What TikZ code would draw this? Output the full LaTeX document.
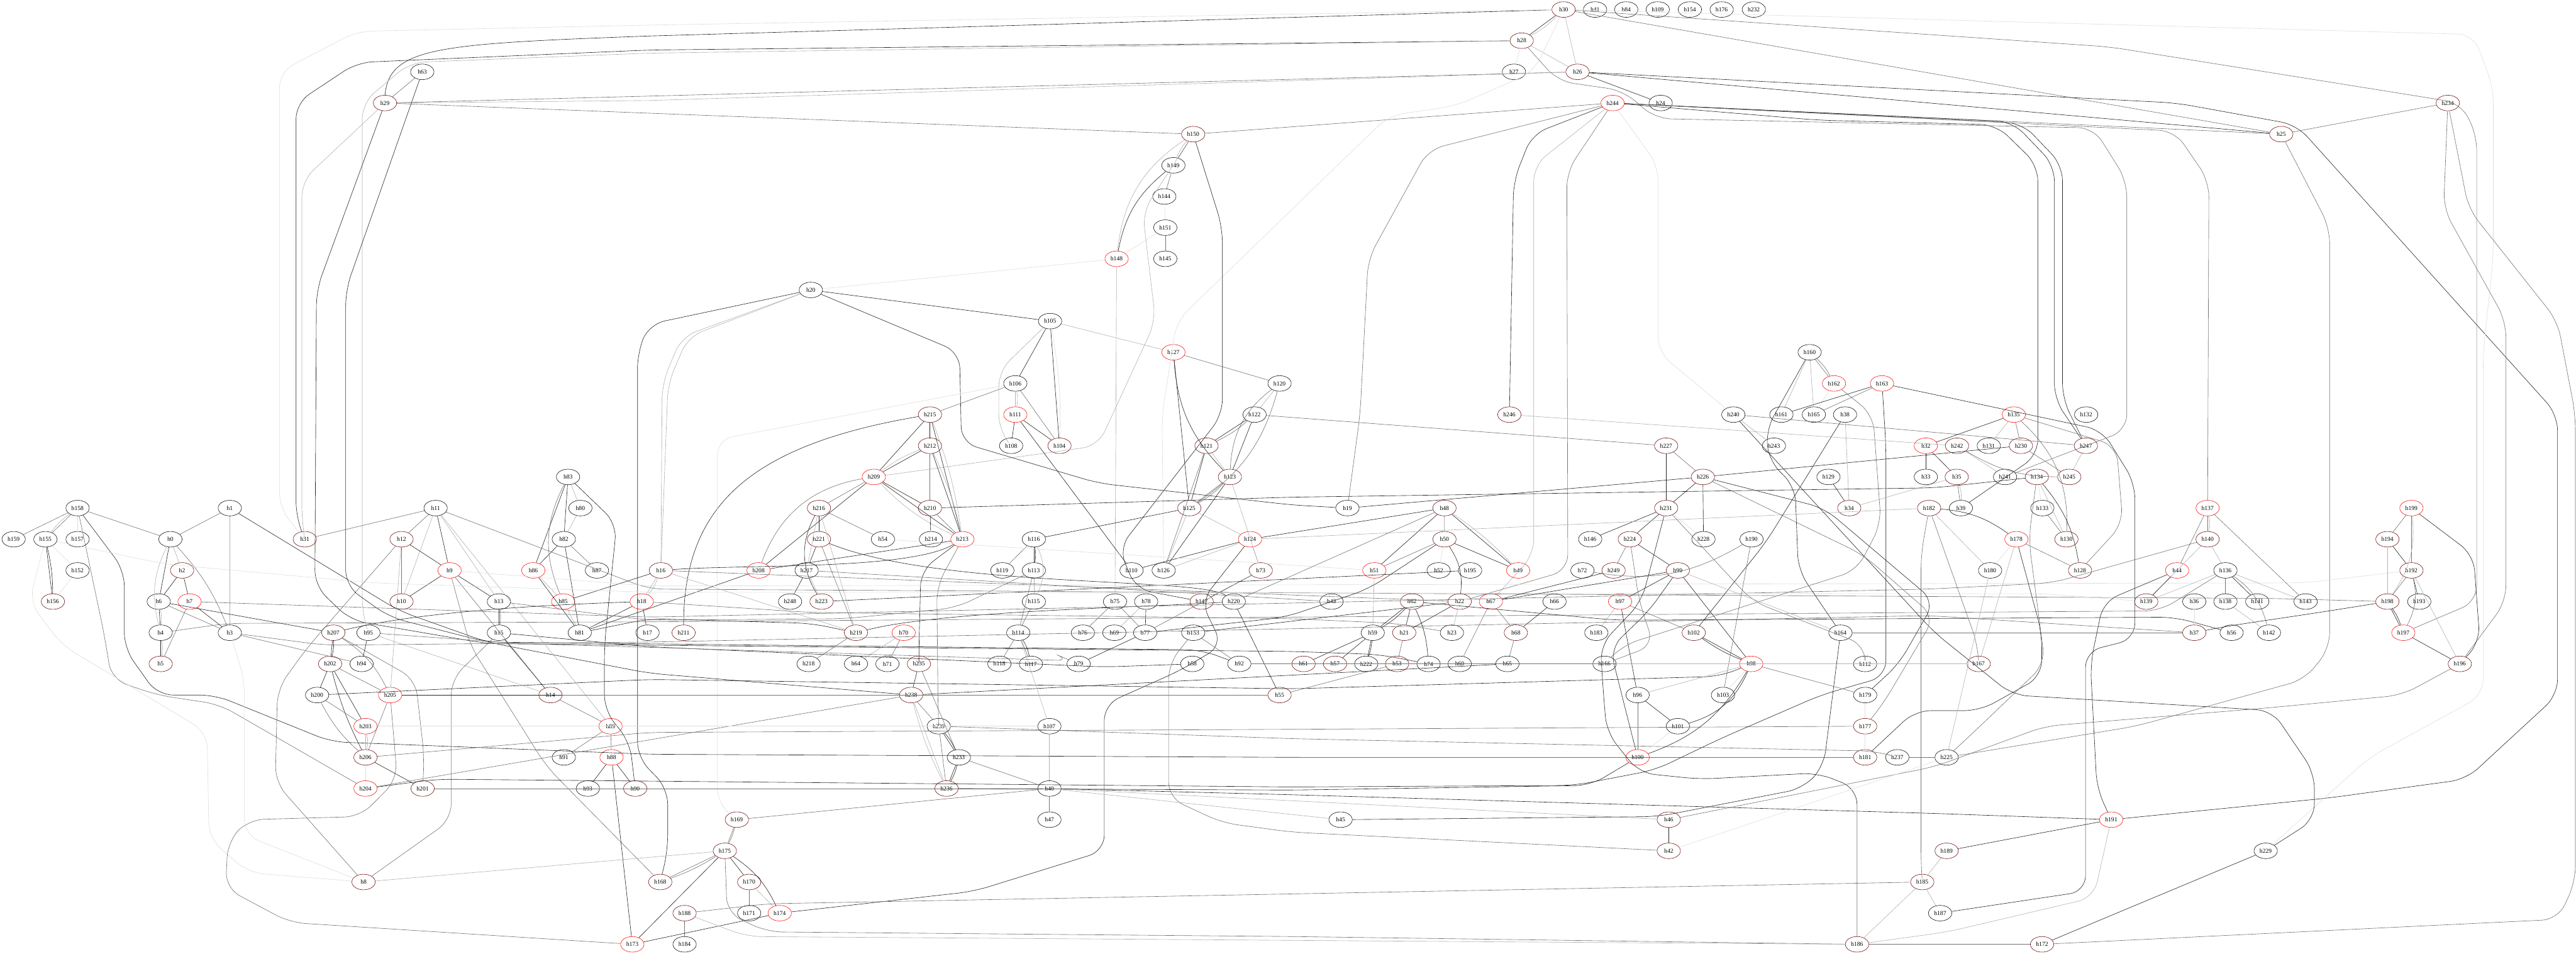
\documentclass[tikz,border=0pt]{standalone}
\usepackage{fontspec}
\setmainfont{Liberation Serif}
\usetikzlibrary{shapes.geometric}
\newcommand\hN[4]{\node[#1] (#2) at (#3,#4) {#2};}
\begin{document}
\begin{tikzpicture}[x=0.75pt,y=-72pt,
 hn/.style={ellipse,draw=black,line width=0.8pt,minimum width=54pt,minimum height=36pt,inner sep=0pt,font=\fontsize{14}{16}\selectfont},
 hr/.style={hn,draw=red},
 hd/.style={hn,draw=red!40!black},
 ek/.style={draw=black!85,line width=0.9pt},
 eg/.style={draw=black!55,line width=0.9pt},
 el/.style={draw=black!30,line width=0.9pt},
 ev/.style={draw=black!13,line width=0.9pt},
 rc/.style={rounded corners=36pt}]
\useasboundingbox[fill=white] (0,0) rectangle (7936,30.6146);
\begin{scope}[yshift=-22pt]
% r0
\hN{hd}{h30}{4817}{0}\hN{hn}{h41}{4914}{0}\hN{hn}{h84}{5010}{0}\hN{hn}{h109}{5107}{0}\hN{hn}{h154}{5206}{0}\hN{hn}{h176}{5304}{0}\hN{hn}{h232}{5403}{0}
% r1-r10
\hN{hd}{h28}{4688}{1}
\hN{hn}{h63}{1301}{2}\hN{hn}{h27}{4664}{2}\hN{hd}{h26}{4860}{2}
\hN{hd}{h29}{1186}{3}\hN{hr}{h244}{4968}{3}\hN{hn}{h24}{5116}{3}\hN{hd}{h234}{7541}{3}
\hN{hd}{h150}{3676}{4}\hN{hd}{h25}{7028}{4}
\hN{hn}{h149}{3615}{5}
\hN{hn}{h144}{3587}{6}
\hN{hn}{h151}{3590}{7}
\hN{hr}{h148}{3440}{8}\hN{hn}{h145}{3590}{8}
\hN{hn}{h20}{2498}{9}
\hN{hn}{h105}{3235}{10}
% r11
\hN{hr}{h127}{3615}{11}\hN{hn}{h160}{5575}{11}
% r12
\hN{hn}{h106}{3128}{12}\hN{hn}{h120}{3942}{12}\hN{hr}{h162}{5650}{12}\hN{hr}{h163}{5798}{12}
% r13
\hN{hd}{h215}{2865}{13}\hN{hr}{h111}{3128}{13}\hN{hn}{h122}{3865}{13}\hN{hd}{h246}{4650}{13}\hN{hn}{h240}{5340}{13}\hN{hn}{h161}{5488}{13}\hN{hn}{h165}{5588}{13}\hN{hn}{h38}{5684}{13}\hN{hr}{h135}{6204}{13}\hN{hn}{h132}{6427}{13}
% r14
\hN{hd}{h212}{2865}{14}\hN{hn}{h108}{3115}{14}\hN{hd}{h104}{3264}{14}\hN{hd}{h121}{3717}{14}\hN{hd}{h227}{5133}{14}\hN{hn}{h243}{5465}{14}\hN{hr}{h32}{5933}{14}\hN{hd}{h242}{6029}{14}\hN{hn}{h131}{6127}{14}\hN{hd}{h230}{6226}{14}\hN{hd}{h247}{6426}{14}
% r15
\hN{hn}{h83}{1750}{15}\hN{hr}{h209}{2692}{15}\hN{hd}{h123}{3789}{15}\hN{hd}{h226}{5246}{15}\hN{hn}{h129}{5633}{15}\hN{hn}{h33}{5933}{15}\hN{hd}{h35}{6028}{15}\hN{hn}{h241}{6177}{15}\hN{hd}{h134}{6275}{15}\hN{hd}{h245}{6375}{15}
% r16
\hN{hn}{h158}{239}{16}\hN{hn}{h1}{708}{16}\hN{hn}{h11}{1342}{16}\hN{hn}{h80}{1788}{16}\hN{hd}{h216}{2523}{16}\hN{hd}{h210}{2865}{16}\hN{hd}{h125}{3664}{16}\hN{hn}{h19}{4151}{16}\hN{hd}{h48}{4450}{16}\hN{hd}{h231}{5133}{16}\hN{hd}{h34}{5697}{16}\hN{hd}{h182}{5943}{16}\hN{hn}{h39}{6041}{16}\hN{hn}{h133}{6292}{16}\hN{hr}{h137}{6801}{16}\hN{hr}{h199}{7429}{16}
% r17
\hN{hn}{h159}{42}{17}\hN{hn}{h155}{140}{17}\hN{hn}{h157}{239}{17}\hN{hn}{h0}{525}{17}\hN{hd}{h31}{939}{17}\hN{hd}{h12}{1237}{17}\hN{hn}{h82}{1737}{17}\hN{hd}{h221}{2523}{17}\hN{hn}{h54}{2720}{17}\hN{hn}{h214}{2868}{17}\hN{hr}{h213}{2965}{17}\hN{hn}{h116}{3185}{17}\hN{hr}{h124}{3851}{17}\hN{hd}{h50}{4450}{17}\hN{hn}{h146}{4899}{17}\hN{hd}{h224}{5021}{17}\hN{hn}{h228}{5248}{17}\hN{hn}{h190}{5396}{17}\hN{hr}{h178}{6212}{17}\hN{hd}{h130}{6366}{17}\hN{hd}{h140}{6801}{17}\hN{hd}{h194}{7355}{17}
% r18
\hN{hn}{h152}{239}{18}\hN{hd}{h2}{561}{18}\hN{hr}{h9}{1385}{18}\hN{hr}{h86}{1643}{18}\hN{hn}{h87}{1839}{18}\hN{hd}{h16}{2036}{18}\hN{hr}{h208}{2337}{18}\hN{hn}{h217}{2485}{18}\hN{hn}{h119}{3088}{18}\hN{hn}{h113}{3185}{18}\hN{hn}{h110}{3486}{18}\hN{hn}{h126}{3585}{18}\hN{hd}{h73}{3884}{18}\hN{hr}{h51}{4234}{18}\hN{hn}{h52}{4432}{18}\hN{hn}{h195}{4529}{18}\hN{hr}{h49}{4677}{18}\hN{hn}{h72}{4875}{18}\hN{hd}{h249}{4971}{18}\hN{hd}{h99}{5169}{18}\hN{hn}{h180}{6131}{18}\hN{hd}{h128}{6408}{18}\hN{hr}{h44}{6707}{18}\hN{hn}{h136}{6856}{18}\hN{hd}{h192}{7429}{18}
% r19
\hN{hd}{h156}{163}{19}\hN{hn}{h6}{489}{19}\hN{hr}{h7}{584}{19}\hN{hd}{h10}{1237}{19}\hN{hn}{h13}{1537}{19}\hN{hr}{h85}{1735}{19}\hN{hr}{h18}{1977}{19}\hN{hn}{h248}{2434}{19}\hN{hd}{h223}{2531}{19}\hN{hn}{h115}{3185}{19}\hN{hn}{h75}{3435}{19}\hN{hn}{h78}{3531}{19}\hN{hd}{h147}{3702}{19}\hN{hn}{h220}{3801}{19}\hN{hn}{h43}{4102}{19}\hN{hd}{h62}{4350}{19}\hN{hd}{h22}{4497}{19}\hN{hr}{h67}{4593}{19}\hN{hn}{h66}{4789}{19}\hN{hr}{h97}{4991}{19}\hN{hd}{h139}{6612}{19}\hN{hn}{h36}{6760}{19}\hN{hn}{h138}{6856}{19}\hN{hn}{h141}{6954}{19}\hN{hn}{h143}{7103}{19}\hN{hd}{h198}{7355}{19}\hN{hn}{h193}{7453}{19}
% r20
\hN{hn}{h4}{495}{20}\hN{hn}{h3}{708}{20}\hN{hd}{h207}{1027}{20}\hN{hn}{h95}{1135}{20}\hN{hn}{h15}{1537}{20}\hN{hn}{h81}{1786}{20}\hN{hn}{h17}{1995}{20}\hN{hd}{h211}{2106}{20}\hN{hd}{h219}{2637}{20}\hN{hr}{h70}{2784}{20}\hN{hn}{h114}{3137}{20}\hN{hn}{h76}{3336}{20}\hN{hn}{h69}{3433}{20}\hN{hn}{h77}{3528}{20}\hN{hn}{h153}{3676}{20}\hN{hn}{h59}{4229}{20}\hN{hd}{h21}{4326}{20}\hN{hn}{h23}{4473}{20}\hN{hd}{h68}{4670}{20}\hN{hn}{h183}{4918}{20}\hN{hd}{h102}{5218}{20}\hN{hn}{h164}{5670}{20}\hN{hd}{h37}{6760}{20}\hN{hn}{h56}{6875}{20}\hN{hn}{h142}{6990}{20}\hN{hr}{h197}{7404}{20}
% r21
\hN{hd}{h5}{495}{21}\hN{hd}{h202}{1017}{21}\hN{hn}{h94}{1114}{21}\hN{hn}{h218}{2491}{21}\hN{hn}{h64}{2637}{21}\hN{hn}{h71}{2734}{21}\hN{hd}{h235}{2831}{21}\hN{hn}{h118}{3079}{21}\hN{hn}{h117}{3176}{21}\hN{hn}{h79}{3323}{21}\hN{hn}{h58}{3673}{21}\hN{hn}{h92}{3818}{21}\hN{hd}{h61}{4016}{21}\hN{hd}{h57}{4113}{21}\hN{hn}{h222}{4209}{21}\hN{hd}{h53}{4304}{21}\hN{hn}{h74}{4401}{21}\hN{hn}{h60}{4497}{21}\hN{hn}{h65}{4644}{21}\hN{hn}{h166}{4943}{21}\hN{hr}{h98}{5395}{21}\hN{hn}{h112}{5746}{21}\hN{hd}{h167}{6096}{21}\hN{hd}{h196}{7578}{21}
% r22
\hN{hn}{h200}{977}{22}\hN{hr}{h205}{1202}{22}\hN{hd}{h14}{1696}{22}\hN{hd}{h238}{2807}{22}\hN{hd}{h55}{3942}{22}\hN{hn}{h96}{5045}{22}\hN{hn}{h103}{5308}{22}\hN{hn}{h179}{5746}{22}
% r23
\hN{hr}{h203}{1126}{23}\hN{hr}{h89}{1881}{23}\hN{hn}{h239}{2892}{23}\hN{hn}{h107}{3233}{23}\hN{hn}{h101}{5169}{23}\hN{hd}{h177}{5746}{23}
% r24
\hN{hd}{h206}{1126}{24}\hN{hn}{h91}{1737}{24}\hN{hr}{h88}{1884}{24}\hN{hn}{h233}{2954}{24}\hN{hr}{h100}{5045}{24}\hN{hd}{h181}{5746}{24}\hN{hn}{h237}{5845}{24}\hN{hn}{h225}{5997}{24}
% r25
\hN{hr}{h204}{1126}{25}\hN{hd}{h201}{1302}{25}\hN{hn}{h93}{1811}{25}\hN{hd}{h90}{1957}{25}\hN{hd}{h236}{2916}{25}\hN{hn}{h40}{3233}{25}
% r26
\hN{hd}{h169}{2270}{26}\hN{hn}{h47}{3233}{26}\hN{hn}{h45}{4130}{26}\hN{hd}{h46}{5141}{26}\hN{hr}{h191}{6504}{26}
% r27
\hN{hd}{h175}{2233}{27}\hN{hd}{h42}{5141}{27}\hN{hd}{h189}{5997}{27}\hN{hn}{h229}{6980}{27}
% r28
\hN{hd}{h8}{1120}{28}\hN{hd}{h168}{2034}{28}\hN{hd}{h170}{2308}{28}\hN{hd}{h185}{5922}{28}
% r29
\hN{hd}{h188}{2109}{29}\hN{hn}{h171}{2308}{29}\hN{hr}{h174}{2402}{29}\hN{hn}{h187}{5977}{29}
% r30
\hN{hr}{h173}{1948}{30}\hN{hn}{h184}{2109}{30}\hN{hd}{h186}{5721}{30}\hN{hd}{h172}{6291}{30}

% ---------------- edges: top
\draw[ek] (h30) -- (h28); \draw[el] (h30) to[bend left=8] (h28);
\draw[el] (h30) -- (h26); \draw[ev] (h28) -- (h27); \draw[el] (h28) -- (h26);
\draw[ek] (h26) -- (h24); \draw[eg] (h63) -- (h29);
\draw[eg] (h30) -- (h25); \draw[ek] (h26) -- (h25); \draw[eg] (h244) -- (h25); \draw[eg] (h234) -- (h25);
\draw[eg] (h29) -- (h150); \draw[eg] (h150) -- (h244);
\draw[eg] (h29) -- (h26); \draw[el] (h29) -- (2000,2.92) -- (h26);
\draw[ek] (h29.north) .. controls (1200,1.2) and (1350,1.1) .. (2000,0.85) -- (h30);
\draw[ev,rc] (h30) -- (2000,0.5) -- (1100,0.7) -- (861,2) -- (861,16) -- (h31);
\draw[ek,rc] (h28) -- (2000,1.3) -- (1100,1.7) -- (912,3) -- (912,16.3) -- (h31);
\draw[el,rc] (h28) -- (2000,1.4) -- (1263,1.7) -- (1116,3) -- (1116,19.4) -- (h95);
\draw[el,rc] (h29) -- (930,5.5) -- (930,16.4) -- (h31);
\draw[ek,rc] (h29) -- (975,9) -- (970,18.5) -- (1080,19.6) -- (1500,20.35) -- (3980,20.6) -- (4250,20.7) -- (h74);
\draw[ek,rc] (h63) -- (1065,9) -- (1065,18.5) -- (1200,19.5) -- (1500,20.3) -- (3700,20.55) -- (h92);
\draw[ev,rc] (h30) -- (4725,2) -- (4483,3.1) -- (4279,3.4) -- (3625,10) -- (3580,13) -- (h126);
% h150 block
\draw[ek] (h150) -- (h149); \draw[el] (h150) to[bend right=10] (h149);
\draw[eg] (h149) -- (h144); \draw[ev] (h144) -- (h151); \draw[eg] (h151) -- (h145);
\draw[ek] (h149) to[bend right=20] (h148); \draw[el] (h150) to[bend right=25] (h148); \draw[ev] (h151) -- (h148);
\draw[ev] (h148) -- (h20); \draw[el] (h148) -- (h75);
\draw[el,rc] (h150) -- (3520,6.5) -- (3560,10) -- (3383,14) -- (h209);
\draw[ek,rc] (h150) -- (3766,7) -- (3766,13) -- (3447,17.3) -- (3500,18.6) -- (h147);
\draw[ek,rc] (h20) -- (2956,11) -- (2962,13.9) -- (3383,15.2) -- (3980,15.9) -- (h19);
\draw[ek,rc] (h20) -- (2000,10.1) -- (1964,11) -- (1964,24) -- (2057,25) -- (2057,27) -- (h168);
\draw[el,rc] (h20) -- (2100,10.5) -- (2040,12) -- (h16);
\draw[el,rc] (h20) -- (2120,10.5) -- (2058,12) -- (h16);
\draw[ek] (h20) -- (h105);
% h244 routes
\draw[ek,rc] (h244) -- (4720,4) -- (4663,5.5) -- (h246);
\draw[el,rc] (h244) -- (4725,5) -- (4725,17.5) -- (h67);
\draw[eg,rc] (h244) -- (4827,5.2) -- (4830,18) -- (h22);
\draw[ev,rc] (h244) -- (5108,5) -- (5108,11) -- (h240);
\draw[eg,rc] (h244) -- (4400,4.5) -- (4215,8) -- (4190,13) -- (h19);
\draw[ek,rc] (h244) -- (5600,3.55) -- (6150,3.7) -- (6278,5) -- (6278,14.3) -- (h39);
\draw[ek,rc] (h244) -- (6200,3.6) -- (6329,5) -- (6329,12.5) -- (h247);
\draw[ek,rc] (h244) -- (6230,3.65) -- (6354,5) -- (6354,12.5) -- (h247);
\draw[eg,rc] (h28) -- (4800,2.3) -- (5000,2.6) -- (5100,3.5) -- (6450,3.8) -- (6552,5.5) -- (6552,13.5) -- (6300,14.5) -- (h241);
\draw[eg,rc] (h244) -- (6700,3.9) -- (6805,5.5) -- (h137);
\draw[ek,rc] (h26) -- (6705,3.0) -- (7075,3.7) -- (7879,13) -- (7879,22) -- (7598,24.7) -- (7177,25.3) -- (h191);
\draw[eg,rc] (h30) -- (6500,1.2) -- (7580,3) -- (7630,4) -- (7630,19) -- (h197);
\draw[ev,rc] (h30) -- (7620,0.8) -- (7681,2.5) -- (7681,8) -- (7650,11) -- (7650,22) -- (7300,24) -- (h229);
\draw[eg,rc] (h234) -- (7528,6.4) -- (7720,10) -- (7720,19) -- (h196);
\draw[eg,rc] (h234) -- (7605,6.4) -- (7879,10) -- (7934,13) -- (7934,28) -- (7880,29.2) -- (h172);
\draw[eg,rc] (h25) -- (7177,7) -- (7177,20.5) -- (7100,21.5) -- (6580,23) -- (h225);
% crop6 block
\draw[el] (h105) -- (h127); \draw[ek] (h105) -- (h106); \draw[ek] (h105) -- (h104); \draw[ev] (h105) to[bend left=6] (h104);
\draw[el,rc] (h105) -- (3077,11.6) -- (3077,13.5) -- (h108);
\draw[el] (h106) -- (h111); \draw[el] (h106) to[bend left=10] (h111); \draw[eg] (h106) -- (h104); \draw[eg] (h106) -- (h215);
\draw[ek] (h111) -- (h108); \draw[ek] (h111) -- (h104); \draw[ek] (h111) -- (h110);
\draw[eg] (h127) -- (h120); \draw[ek] (h127) -- (h125); \draw[ek] (h127) to[bend right=20] (h123);
\draw[el] (h120) -- (h122); \draw[eg] (h120) to[bend right=25] (h123); \draw[eg] (h120) to[bend left=20] (h125);
\draw[ek] (h122) -- (h121); \draw[eg] (h122) to[bend left=8] (h121); \draw[ek] (h122) -- (h123);
\draw[ek] (h121) -- (h125); \draw[el] (h121) -- (h123); \draw[eg] (h121) -- (h126);
\draw[eg] (h123) -- (h125); \draw[eg] (h123) to[bend left=8] (h125); \draw[ek] (h123) -- (h126); \draw[el] (h123) -- (h73);
\draw[ek] (h125) -- (h116); \draw[el] (h125) -- (h124); \draw[el] (h125) -- (h126);
\draw[ek] (h124) -- (h110); \draw[el] (h124) -- (h126); \draw[el] (h124) -- (h73);
\draw[ek] (h215) -- (h212); \draw[ek] (h215) -- (h209); \draw[ek] (h215) -- (h213); \draw[el] (h215) to[bend left=6] (h213);
\draw[ek] (h215) .. controls (2300,14) and (2106,16) .. (h211);
\draw[ek] (h212) -- (h209); \draw[el] (h212) to[bend right=8] (h209); \draw[eg] (h212) -- (h210); \draw[ek] (h212) -- (h213); \draw[el] (h212) to[bend left=6] (h213);
\draw[ek] (h209) -- (h210); \draw[ek] (h209) -- (h213); \draw[el] (h209) to[bend right=10] (h213); \draw[eg] (h209) -- (h216);
\draw[ek] (h209) -- (h208); \draw[eg] (h209) to[bend right=30] (h208);
\draw[ek] (h216) -- (h221); \draw[eg] (h216) -- (h54); \draw[el] (h216) -- (h217); \draw[ek] (h216) to[bend right=30] (h223); \draw[el] (h216) -- (h219);
\draw[ek] (h221) -- (h217); \draw[eg] (h221) -- (h219);
\draw[ek] (h221) .. controls (2900,18.6) and (3700,18.2) .. (h220);
\draw[ek] (h217) -- (h248); \draw[el] (h217) -- (h223); \draw[ek] (h210) -- (h214); \draw[eg] (h210) -- (h213);
\draw[ek,rc] (h213) -- (2837,18) -- (2831,20.5) -- (h235);
\draw[eg,rc] (h213) -- (2886,18.5) -- (2890,22.5) -- (h239);
\draw[ek] (h213) .. controls (2800,18) and (2300,17.8) .. (h16); \draw[ek] (h213) -- (h208);
\draw[eg] (h116) -- (h119); \draw[ek] (h116) -- (h113); \draw[ek] (h116) to[bend left=8] (h113); \draw[el] (h116) to[bend left=25] (h115);
\draw[el] (h113) -- (h115); \draw[eg] (h113) -- (h114); \draw[eg] (h115) -- (h114);
\draw[eg] (h75) -- (h76); \draw[eg] (h75) -- (h77); \draw[ek] (h78) -- (h77); \draw[el] (h78) -- (h69);
\draw[eg] (h147) -- (h73); \draw[eg] (h73) -- (h77); \draw[ek] (h219) .. controls (2900,19.3) and (3500,19.2) .. (h220);
\draw[eg] (h114) -- (h118); \draw[eg] (h114) -- (h117); \draw[ek] (h114) to[bend left=10] (h117);
\draw[ek] (h77) -- (h79); \draw[eg] (h70) -- (h71); \draw[el] (h70) -- (h64); \draw[eg] (h219) -- (h218);
\draw[eg] (h16) -- (h22); \draw[eg] (h217) -- (h43); \draw[ek] (h223) -- (h195);
\draw[eg,rc] (h18) -- (2500,19.35) -- (3980,19.55) -- (4300,19.7) -- (h23);
\draw[ek] (h208) -- (h81); \draw[el] (h16) -- (h219);
\draw[eg,rc] (h13) -- (2000,19.6) -- (2600,19.55) -- (2945,19.2) -- (h113);
\draw[ek,rc] (h15) -- (2000,20.45) -- (3400,21.1) -- (h58);
\draw[eg,rc] (h95) -- (1600,20.35) -- (2100,20.5) -- (3300,20.9) -- (h79);
\draw[ev,rc] (h106) -- (2210,13.8) -- (2210,25.5) -- (h169);
\draw[ev] (h54) -- (h51);
% crop5 block
\draw[eg] (h158) -- (h159); \draw[eg] (h158) -- (h155); \draw[el] (h158) to[bend right=8] (h155); \draw[ev] (h158) -- (h157); \draw[eg] (h158) -- (h0);
\draw[ek] (h155) -- (h156); \draw[ek] (h155) to[bend left=6] (h156); \draw[ev] (h155) -- (h152); \draw[ev] (h152) -- (h156);
\draw[eg] (h1) -- (h0); \draw[el] (h1) -- (h3); \draw[ek] (h0) -- (h6); \draw[el] (h0) -- (h2); \draw[eg] (h0) to[bend left=10] (h3); \draw[el] (h0) to[bend right=20] (h4);
\draw[ek] (h2) -- (h6); \draw[ek] (h2) -- (h7); \draw[ek] (h6) -- (h4); \draw[el] (h6) to[bend left=8] (h4); \draw[eg] (h6) -- (h3); \draw[ek] (h6) -- (h207); \draw[ek] (h7) -- (h3);
\draw[ek] (h4) -- (h5); \draw[el] (h4) to[bend left=8] (h5); \draw[eg] (h7) -- (h5);
\draw[eg] (h31) -- (h11); \draw[eg] (h11) -- (h12); \draw[ek] (h11) -- (h9); \draw[el] (h11) -- (h10); \draw[el] (h11) -- (h13);
\draw[eg] (h12) -- (h10); \draw[ek] (h12) -- (h9); \draw[ek] (h9) -- (h10); \draw[ek] (h9) -- (h13); \draw[ek] (h13) -- (h15); \draw[eg] (h13) to[bend left=8] (h15);
\draw[el] (h83) -- (h80); \draw[ek] (h83) -- (h82); \draw[ek] (h83) -- (h86); \draw[eg] (h83) to[bend right=25] (h85); \draw[el] (h80) -- (h82);
\draw[ek] (h82) -- (h86); \draw[eg] (h82) -- (h87); \draw[ek] (h82) -- (h81); \draw[ek] (h86) -- (h81); \draw[el] (h86) -- (h85); \draw[el] (h85) -- (h81);
\draw[ek] (h18) -- (h81); \draw[ek] (h207) .. controls (1300,19.3) and (1700,19.1) .. (h18); \draw[ek] (h85) -- (h16); \draw[ek] (h18) -- (h17);
\draw[el] (h16) -- (h18); \draw[el] (h16) to[bend left=10] (h18);
\draw[ek,rc] (h81) -- (2000,19.55) -- (2500,19.7) -- (h219);
\draw[ek,rc] (h83) -- (1900,16.5) -- (1862,20.4) -- (1862,22.5) -- (1940,23.5) -- (h90);
\draw[ek,rc] (h158) -- (383,18) -- (383,20.5) -- (485,22) -- (663,22) -- (1020,23.5) -- (2000,23.9) -- (3980,24) -- (h181);
\draw[eg,rc] (h158) -- (320,20) -- (344,21.5) -- (485,22) -- (676,22.3) -- (h204);
\draw[ev,rc] (h155) -- (90,19) -- (191,20.4) -- (383,21.6) -- (638,23.2) -- (644,26.6) -- (765,27.7) -- (h8);
\draw[ek,rc] (h1) -- (1230,19.3) -- (1500,20.3) -- (2000,21.3) -- (h238);
\draw[ek] (h15) -- (h14); \draw[el] (h95) -- (h14); \draw[eg] (h9) -- (h14); \draw[el] (h11) -- (h89);
\draw[eg,rc] (h9) -- (1448,20.4) -- (1684,24.3) -- (h168);
\draw[el] (h12) -- (h205); \draw[eg] (h3) -- (h94); \draw[eg,rc] (h207) -- (1280,21.5) -- (1307,24) -- (h201);
% long band
\draw[eg,rc] (h11) -- (2000,18.6) -- (7000,18.9) -- (h198);
\draw[ev,rc] (h9) -- (2000,18.5) -- (7100,18.4) -- (h192);
\draw[eg,rc] (h7) -- (2000,19.5) -- (5940,18.6) -- (6323,18.4) -- (h140);
\draw[eg,rc] (h4) -- (700,19.7) -- (2000,19.65) -- (5940,19.35) -- (6654,19.3) -- (h136);
\draw[eg,rc] (h3) -- (1000,20.4) -- (2000,20.3) -- (5940,19.45) -- (h37);
\draw[ev,rc] (h155) -- (510,17.8) -- (1148,18.4) -- (2000,18.7) -- (6300,18.75) -- (h139);
% crop9 block
\draw[ek] (h202) -- (h207); \draw[ek] (h202) to[bend right=8] (h207); \draw[ek] (h94) -- (h95); \draw[eg] (h207) to[bend left=15] (h205);
\draw[ek] (h202) -- (h200); \draw[eg] (h202) -- (h205); \draw[ek] (h202) -- (h203); \draw[ek] (h202) to[bend right=6] (h206);
\draw[eg] (h200) -- (h203); \draw[eg] (h200) to[bend right=10] (h206); \draw[el] (h203) -- (h206); \draw[el] (h203) to[bend left=10] (h206);
\draw[eg] (h205) -- (h206); \draw[ev] (h206) -- (h204); \draw[ek] (h206) -- (h201);
\draw[eg] (h14) -- (h89); \draw[eg] (h89) -- (h91); \draw[eg] (h89) -- (h88); \draw[ek] (h88) -- (h93); \draw[ek] (h88) -- (h90); \draw[ek] (h88) -- (h173);
\draw[eg,rc] (h205) -- (1224,24.7) -- (1110,25.9) -- (765,26) -- (702,26.7) -- (695,28.2) -- (893,29.3) -- (h173);
\draw[eg,rc] (h12) -- (945,20.5) -- (855,21.8) -- (848,24.8) -- (h8);
\draw[ev,rc] (h3) -- (753,21.5) -- (753,26.5) -- (h8);
\draw[eg,rc] (h15) -- (1390,21.5) -- (1390,26) -- (h8);
\draw[el] (h8) -- (h175);
\draw[ek] (h205) -- (h238); \draw[ek,rc] (h200) -- (2000,21.5) -- (3980,21.8) -- (5300,21.4) -- (h98);
\draw[eg] (h14) -- (h238); \draw[eg] (h14) -- (h55); \draw[eg] (h204) -- (h238);
\draw[eg,rc] (h206) -- (2000,23.2) -- (3980,23.1) -- (h177);
\draw[ev] (h203) -- (h107);
\draw[ek,rc] (h204) -- (1345,24.7) -- (3980,24.95) -- (4850,24.9) -- (5100,24.4) -- (5300,23.4) -- (5610,22) -- (5810,21.4) -- (5810,14) -- (h163);
\draw[eg] (h201) -- (h40);
% crop7 block
\draw[eg] (h160) -- (h162); \draw[eg] (h160) to[bend left=10] (h162); \draw[el] (h160) -- (h161); \draw[el] (h160) -- (h165);
\draw[ek,rc] (h160) -- (5440,13.5) -- (5450,14.5) -- (5530,15.3) -- (5540,18) -- (h164);
\draw[ev] (h162) -- (h165); \draw[ek] (h163) -- (h161); \draw[eg] (h163) -- (h165);
\draw[el] (h240) -- (h243); \draw[ek] (h227) -- (h231); \draw[eg] (h227) -- (h226);
\draw[ek] (h226) -- (h231); \draw[ek] (h226) -- (h228); \draw[ek] (h226) -- (h19); \draw[ek] (h226) -- (h230);
\draw[ek] (h129) -- (h34); \draw[el] (h34) -- (h35); \draw[ek] (h32) -- (h33); \draw[el] (h38) -- (h34);
\draw[el] (h48) -- (h50); \draw[ek] (h48) -- (h51); \draw[ek] (h48) -- (h49); \draw[el] (h48) to[bend left=6] (h49);
\draw[eg] (h50) -- (h51); \draw[ev] (h50) -- (h52); \draw[ek] (h50) -- (h49);
\draw[ek] (h231) -- (h146); \draw[ek] (h231) -- (h224); \draw[ev] (h231) -- (h228); \draw[eg] (h224) -- (h249); \draw[ek] (h224) -- (h99);
\draw[eg] (h190) to[bend left=20] (h72); \draw[ek] (h99) -- (h97); \draw[ek] (h99) -- (h67); \draw[ek] (h249) -- (h67);
\draw[ek] (h62) -- (h59); \draw[ek] (h62) to[bend left=8] (h59); \draw[ek] (h62) -- (h21); \draw[ek] (h22) -- (h21); \draw[el] (h22) -- (h23);
\draw[eg] (h67) -- (h68); \draw[ek] (h66) -- (h68); \draw[el] (h97) -- (h183); \draw[eg] (h97) -- (h102);
\draw[eg] (h122) -- (h227); \draw[el] (h246) -- (h242); \draw[eg] (h240) -- (h247);
\draw[ek,rc] (h163) -- (6476,13.5) -- (6577,15.2) -- (6577,20.2) -- (6425,20.6) -- (6425,28.3) -- (h187);
\draw[el] (h124) -- (h182); \draw[ek] (h48) -- (h124); \draw[eg] (h48) -- (h220);
\draw[ek,rc] (h50) -- (4215,18.6) -- (3960,19.5) -- (h77);
\draw[ek] (h50) to[bend left=20] (h22); \draw[el] (h51) -- (h59);
\draw[ek,rc] (h62) -- (4980,19.6) -- (6700,19.5) -- (h56);
\draw[ek] (h22) -- (h153); \draw[eg] (h67) -- (h60);
\draw[ek] (h97) -- (h96); \draw[ek,rc] (h99) -- (5080,19.3) -- (4960,20.5) -- (h100);
\draw[ek,rc] (h231) -- (5057,19) -- (4930,20.4) -- (4940,22) -- (4950,23.2) -- (5050,24.5) -- (5237,24.7) -- (5600,24.5) -- (5721,25) -- (h186);
\draw[eg,rc] (h231) -- (5400,19) -- (5746,20.4) -- (h112);
\draw[eg] (h164) -- (h37);
\draw[ek,rc] (h240) -- (5960,20) -- (6200,22) -- (7000,22.5) -- (7130,24.5) -- (7130,26) -- (h229);
\draw[ek,rc] (h38) -- (5440,17.1) -- (h102);
\draw[ek] (h102) -- (h98); \draw[ek] (h102) to[bend right=6] (h98); \draw[ek] (h99) -- (h98);
\draw[el] (h99) -- (h164); \draw[eg] (h190) -- (h103);
\draw[eg,rc] (h224) -- (5050,19) -- (5095,20.4) -- (h166);
\draw[eg,rc] (h162) -- (5770,13) -- (5795,16.5) -- (5720,18) -- (5300,19.4) -- (5000,20.4) -- (h166);
\draw[ek,rc] (h226) -- (5620,16) -- (5960,19) -- (5850,21) -- (h179);
\draw[eg,rc] (h226) -- (5740,17.5) -- (5960,19.5) -- (5800,22.3) -- (h177);
% crop8 block
\draw[ek] (h135) -- (h32); \draw[el] (h135) -- (h131); \draw[eg] (h135) -- (h230);
\draw[eg,rc] (h135) -- (6520,14) -- (6540,16.5) -- (h128);
\draw[eg] (h135) to[bend left=25] (h130);
\draw[ev] (h132) -- (h247); \draw[el] (h242) -- (h241); \draw[eg] (h242) to[bend right=15] (h245); \draw[eg] (h230) -- (h245); \draw[el] (h247) -- (h245);
\draw[ek] (h35) -- (h32); \draw[eg] (h35) -- (h39); \draw[el] (h35) to[bend left=10] (h39);
\draw[ev] (h134) -- (h133); \draw[el] (h134) -- (h130); \draw[ek] (h134) to[bend left=15] (h128); \draw[eg] (h133) -- (h130);
\draw[ek] (h182) to[bend left=15] (h178); \draw[el] (h182) -- (h180); \draw[ev] (h178) -- (h180); \draw[eg] (h178) -- (h128);
\draw[eg] (h137) -- (h140); \draw[el] (h137) to[bend left=10] (h140); \draw[eg] (h137) -- (h44); \draw[eg] (h137) -- (h143);
\draw[el] (h140) -- (h136); \draw[el] (h140) -- (h139); \draw[ek] (h44) -- (h139);
\draw[eg] (h136) -- (h138); \draw[ek] (h136) -- (h141); \draw[el] (h136) -- (h143); \draw[eg] (h136) to[bend left=20] (h142); \draw[el] (h136) -- (h139);
\draw[el] (h138) -- (h142); \draw[ev] (h36) -- (h37);
\draw[eg] (h199) -- (h194); \draw[eg] (h199) -- (h192); \draw[el] (h199) to[bend left=20] (h198);
\draw[ek] (h194) -- (h192); \draw[el] (h194) -- (h198); \draw[eg] (h192) -- (h198); \draw[ek] (h192) -- (h193); \draw[eg] (h192) to[bend left=20] (h197);
\draw[ek] (h198) -- (h197); \draw[ek] (h198) to[bend left=8] (h197);
\draw[ek] (h198) .. controls (7000,19.6) and (6900,19.7) .. (h37);
\draw[ek] (h197) -- (h196);
\draw[ek,rc] (h210) -- (3980,15.65) -- (5960,15.35) -- (h134);
\draw[ek,rc] (h199) -- (7620,17.5) -- (7640,20.3) -- (h196);
\draw[el] (h192) -- (h196);
\draw[ek,rc] (h178) -- (6290,20) -- (6290,21.4) -- (6100,22.5) -- (5900,22.5) -- (h181);
\draw[el] (h178) -- (h167); \draw[eg,rc] (h182) -- (6093,20.4) -- (h167);
\draw[eg,rc] (h134) -- (6250,17) -- (6300,21) -- (6100,23) -- (h225);
\draw[eg,rc] (h182) -- (5918,17.5) -- (5918,27.4) -- (h185);
\draw[el] (h180) -- (h225);
\draw[ek,rc] (h44) -- (6480,19) -- (6440,21) -- (6460,25) -- (h191);
% crop10-12 block
\draw[ek] (h235) -- (h238); \draw[eg] (h235) -- (h233); \draw[eg] (h238) -- (h239); \draw[el] (h238) -- (h236); \draw[el] (h238) to[bend right=6] (h236);
\draw[ek] (h239) -- (h233); \draw[ek] (h239) to[bend left=8] (h233); \draw[eg] (h239) -- (h236);
\draw[ek] (h233) -- (h236); \draw[ek] (h233) to[bend left=8] (h236); \draw[eg] (h233) -- (h40);
\draw[eg] (h40) -- (h47); \draw[el] (h40) -- (h107); \draw[eg] (h40) -- (h169);
\draw[eg] (h169) -- (h175); \draw[eg] (h169) to[bend left=6] (h175);
\draw[eg] (h175) -- (h168); \draw[eg] (h175) to[bend left=6] (h168); \draw[ek] (h175) -- (h170); \draw[ek] (h175) to[bend left=15] (h174);
\draw[eg] (h170) -- (h171); \draw[el] (h170) -- (h174); \draw[eg] (h188) -- (h184);
\draw[ek] (h174) -- (h173); \draw[ek] (h175) -- (h173);
\draw[ek,rc] (h124) -- (3700,19) -- (3766,20.4) -- (3638,21.2) -- (3402,22.3) -- (3402,27) -- (3000,28.3) -- (h174);
\draw[ek] (h238) -- (h65);
\draw[eg,rc] (h239) -- (3980,23.4) -- (5780,23.8) -- (h237);
\draw[ek,rc] (h40) -- (3980,25.2) -- (5960,25.8) -- (h191);
\draw[el] (h40) -- (h46); \draw[el] (h40) -- (h45);
\draw[eg,rc] (h153) -- (3600,21) -- (3600,25.3) -- (3766,26.1) -- (3980,26.4) -- (h42);
\draw[ek,rc] (h236) -- (3980,25.05) -- (4900,24.9) -- (h100);
\draw[el] (h107) -- (h114); \draw[eg] (h153) -- (h92); \draw[ek] (h220) -- (h55);
\draw[ek] (h59) -- (h61); \draw[ek] (h59) -- (h57); \draw[ek] (h59) -- (h222); \draw[ek] (h59) to[bend left=6] (h222);
\draw[eg] (h21) -- (h53); \draw[eg] (h68) -- (h65); \draw[ek] (h62) to[bend left=10] (h74);
\draw[eg] (h53) -- (h55); \draw[eg] (h92) -- (h112); \draw[el] (h166) -- (h167);
\draw[el] (h98) -- (h96); \draw[ev] (h98) -- (h103); \draw[ek] (h98) to[bend left=25] (h101); \draw[ek] (h98) to[bend left=20] (h100); \draw[eg] (h98) -- (h179);
\draw[ek] (h96) -- (h101); \draw[eg] (h96) -- (h100); \draw[ev] (h101) -- (h100); \draw[ev] (h179) -- (h177); \draw[ev] (h177) -- (h181);
\draw[ek] (h46) -- (h42);
\draw[ek,rc] (h164) -- (5618,24.3) -- (5554,25) -- (5108,25.9) -- (h45);
\draw[eg,rc] (h46) -- (5960,24.3) -- (6300,23) -- (7000,22.4) -- (7400,22) -- (h196);
\draw[ev] (h42) -- (h225); \draw[eg] (h237) -- (h225);
\draw[eg,rc] (h188) -- (2363,28.7) -- (h185);
\draw[eg,rc] (h175) -- (2240,29) -- (2363,29.6) -- (3980,29.75) -- (h186);
\draw[el,rc] (h188) -- (2300,29.75) -- (h186);
\draw[eg] (h186) -- (h172); \draw[el,rc] (h191) -- (6450,28.5) -- (6000,29.6) -- (h186);
\draw[ek] (h229) -- (h172); \draw[ek] (h191) -- (h189); \draw[el] (h189) -- (h185); \draw[el] (h185) -- (h187); \draw[el] (h185) -- (h186);
\end{scope}
\end{tikzpicture}
\end{document}
